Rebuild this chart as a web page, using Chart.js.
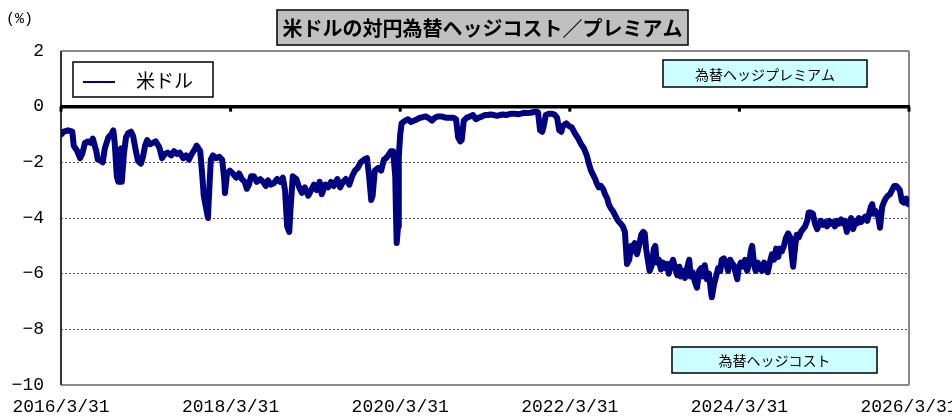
<!DOCTYPE html>
<html><head><meta charset="utf-8">
<script src="https://cdn.jsdelivr.net/npm/chart.js@4/dist/chart.umd.min.js"></script>
<style>html,body{margin:0;padding:0;background:#fff;}#wrap{width:952px;height:418px;}</style>
</head><body><div id="wrap"><canvas id="c" width="952" height="418"></canvas></div>
<script>
const chartTitle = '米ドルの対円為替ヘッジコスト／プレミアム';
const seriesName = '米ドル';
const unitLabel = '(%)';
const premiumLabel = '為替ヘッジプレミアム';
const costLabel = '為替ヘッジコスト';
const xTickMonths = [0, 24, 48, 72, 96, 120];
const xTickLabels = ['2016/3/31', '2018/3/31', '2020/3/31', '2022/3/31', '2024/3/31', '2026/3/31'];
const yTickValues = [2, 0, -2, -4, -6, -8, -10];

// months elapsed since 2016/3/31
const monthsElapsed = [
 0,0.4,1.0,1.6,1.8,2.3,2.7,3.0,3.4,3.8,4.2,4.5,5.0,5.2,5.7,5.9,6.2,6.7,7.1,7.4,
 7.6,7.9,8.1,8.2,8.5,8.6,8.9,9.2,9.5,9.9,10.2,10.6,10.9,11.3,11.6,11.9,12.2,12.6,13.0,13.4,
 13.9,14.3,14.7,15.1,15.6,16.0,16.4,16.8,17.3,17.7,18.1,18.5,19.0,19.2,19.7,
 20.0,20.2,20.5,20.8,20.9,21.2,21.5,21.9,22.4,22.8,23.1,23.2,23.5,23.9,24.3,24.8,25.2,25.6,26.0,26.3,
 26.6,26.9,27.3,27.7,28.2,28.6,29.0,29.3,29.7,30.1,30.6,31.0,31.4,31.7,32.0,32.3,32.5,32.8,33.3,33.7,
 34.1,34.5,35.0,35.4,35.8,36.2,36.6,36.9,37.4,37.8,38.2,38.6,39.1,39.5,39.9,40.3,40.8,41.2,41.6,42.0,
 42.4,42.9,43.3,43.6,43.9,44.1,44.4,44.9,45.3,45.7,46.0,46.3,46.7,47.0,47.3,47.4,47.5,47.7,47.8,48.0,
 48.2,48.7,49.1,49.5,50.0,50.4,50.8,51.2,51.6,52.1,52.5,52.9,53.3,53.8,54.2,54.6,55.0,55.5,55.9,56.2,
 56.5,56.7,57.0,57.4,57.9,58.3,58.7,59.1,59.6,60.0,60.4,60.8,61.3,61.7,62.1,
 62.5,63.0,63.4,63.8,64.2,64.7,65.1,65.5,65.9,66.4,66.8,67.2,67.5,67.8,68.1,68.3,68.6,69.1,69.5,69.9,
 70.2,70.5,70.8,71.0,71.5,71.9,72.3,72.7,73.2,73.6,74.0,74.4,74.7,75.0,75.3,75.6,75.8,76.1,
 76.4,76.7,77.0,77.3,77.5,77.8,78.1,78.4,78.7,79.0,79.2,79.5,79.8,80.0,80.1,80.4,80.7,80.9,81.2,81.5,
 81.8,82.1,82.4,82.6,82.8,83.1,83.3,83.6,83.9,84.1,84.3,84.6,84.9,85.2,85.5,85.8,86.0,86.3,86.6,86.9,
 87.2,87.5,87.7,88.0,88.3,88.6,88.9,89.1,89.4,89.7,90.0,90.3,
 90.6,90.8,91.1,91.4,91.7,92.0,92.1,92.4,92.7,93.0,93.3,93.5,93.8,94.1,94.4,94.7,94.9,95.2,95.5,95.7,
 95.9,96.2,96.5,96.8,97.1,97.4,97.6,97.8,98.1,98.3,98.6,98.9,99.2,99.5,99.8,100.0,100.3,100.6,100.9,101.2,
 101.5,101.7,102.0,102.3,102.6,102.9,103.2,103.4,103.6,103.9,104.1,104.4,
 104.7,105.0,105.3,105.6,105.8,106.1,106.4,106.7,107.0,107.3,107.5,107.8,108.1,108.4,108.7,109.0,109.2,109.5,109.8,110.1,
 110.4,110.7,110.9,111.2,111.5,111.8,112.1,112.4,112.6,112.9,113.2,113.5,113.8,114.1,114.3,114.6,114.8,115.0,115.3,115.6,
 115.9,116.2,116.5,116.7,117.0,117.3,117.6,117.9,118.2,118.4,118.7,119.0,119.3,119.6,119.9,120.0
];

// USD/JPY hedge cost / premium (%)
const usdHedge = [
 -1.0,-0.9,-0.85,-0.9,-1.4,-1.6,-1.85,-1.7,-1.3,-1.25,-1.3,-1.15,-1.6,-1.9,-1.95,-2.0,-1.5,-1.1,-1.0,-0.85,
 -1.3,-2.5,-2.7,-1.6,-1.5,-2.7,-1.7,-1.1,-0.95,-0.9,-1.05,-1.6,-1.95,-2.05,-1.8,-1.4,-1.2,-1.35,-1.3,-1.25,
 -1.45,-1.85,-1.7,-1.65,-1.75,-1.6,-1.7,-1.65,-1.85,-1.75,-1.9,-1.7,-1.5,-1.4,-1.6,
 -2.5,-3.2,-3.6,-4.0,-3.4,-1.9,-1.75,-1.85,-1.8,-1.9,-2.6,-3.1,-2.4,-2.3,-2.4,-2.55,-2.4,-2.6,-2.7,-2.95,
 -2.8,-2.5,-2.5,-2.7,-2.6,-2.7,-2.85,-2.65,-2.8,-2.75,-2.6,-2.7,-2.55,-3.0,-4.3,-4.5,-3.6,-2.5,-2.6,-2.9,
 -3.1,-2.9,-3.2,-3.0,-2.8,-3.0,-2.7,-3.15,-2.8,-2.9,-2.7,-2.85,-2.6,-2.9,-2.7,-2.6,-2.8,-2.5,-2.3,-2.2,
 -2.0,-1.9,-1.85,-2.5,-3.35,-3.2,-2.3,-2.2,-2.3,-1.9,-1.85,-1.75,-1.6,-1.6,-2.5,-3.8,-4.9,-4.3,-1.8,-1.0,
 -0.6,-0.5,-0.45,-0.55,-0.5,-0.45,-0.4,-0.38,-0.35,-0.42,-0.5,-0.4,-0.35,-0.35,-0.38,-0.4,-0.4,-0.4,-0.45,-1.1,
 -1.25,-1.2,-0.5,-0.4,-0.35,-0.3,-0.45,-0.4,-0.35,-0.3,-0.3,-0.28,-0.3,-0.33,-0.3,
 -0.28,-0.3,-0.27,-0.25,-0.25,-0.27,-0.25,-0.22,-0.23,-0.22,-0.2,-0.18,-0.2,-0.85,-0.9,-0.7,-0.3,-0.25,-0.25,-0.3,
 -0.4,-0.85,-0.9,-0.7,-0.6,-0.7,-0.75,-0.95,-1.15,-1.35,-1.5,-1.75,-2.05,-2.3,-2.45,-2.6,-2.75,-2.9,
 -2.85,-2.95,-3.15,-3.3,-3.5,-3.65,-3.75,-3.9,-4.05,-4.15,-4.2,-4.3,-4.5,-5.3,-5.65,-5.5,-5.0,-5.2,-4.9,-5.3,
 -5.0,-4.6,-4.5,-4.55,-5.1,-5.6,-5.9,-5.7,-5.1,-5.0,-5.6,-5.5,-5.85,-5.6,-5.8,-5.65,-6.0,-5.7,-5.5,-5.8,
 -6.05,-5.75,-6.1,-5.9,-6.15,-5.8,-5.5,-6.1,-5.95,-6.3,-6.5,-5.9,
 -5.8,-6.1,-5.7,-6.2,-6.0,-6.7,-6.85,-6.4,-6.1,-5.8,-5.9,-5.5,-5.45,-5.6,-5.9,-5.5,-5.6,-5.7,-6.0,-6.2,
 -5.8,-5.6,-5.75,-5.5,-5.9,-5.6,-5.2,-5.0,-5.7,-5.9,-5.6,-5.8,-5.9,-5.6,-5.75,-5.95,-5.6,-5.3,-5.5,-5.1,
 -5.4,-5.1,-5.2,-5.0,-4.7,-4.55,-4.7,-5.3,-5.75,-5.0,-4.6,-4.7,
 -4.5,-4.4,-4.3,-4.1,-3.8,-3.8,-3.85,-4.2,-4.4,-4.2,-4.1,-4.25,-4.15,-4.3,-4.1,-4.2,-4.15,-4.3,-4.1,-4.2,
 -4.05,-4.2,-4.1,-4.5,-4.2,-4.0,-4.4,-4.1,-4.2,-4.0,-4.15,-4.05,-3.95,-4.1,-3.9,-3.6,-3.5,-3.85,-3.75,-3.9,
 -4.35,-3.6,-3.4,-3.3,-3.2,-3.15,-3.0,-2.85,-2.85,-2.9,-3.0,-3.4,-3.45,-3.3,-3.5,-3.45
];

const lineColor = '#000080';
const tickFont = {family: '"Liberation Mono", "DejaVu Sans Mono", monospace', size: 18};
const jpFont = '"Noto Sans CJK JP", sans-serif';

function strokeLine(ctx, x1, y1, x2, y2) {
  ctx.beginPath(); ctx.moveTo(x1, y1); ctx.lineTo(x2, y2); ctx.stroke();
}
function labelBox(ctx, x, y, w, h, fill, lw, text, font) {
  ctx.fillStyle = fill; ctx.fillRect(x, y, w, h);
  ctx.strokeStyle = '#000'; ctx.lineWidth = lw; ctx.strokeRect(x, y, w, h);
  ctx.fillStyle = '#000'; ctx.font = font;
  ctx.textAlign = 'center'; ctx.textBaseline = 'middle';
  ctx.fillText(text, x + w / 2, y + h / 2 + 1);
}

const decor = {
  id: 'decor',
  beforeDatasetsDraw(chart) {
    const {ctx, chartArea: a, scales: {x, y}} = chart;
    ctx.save();
    ctx.strokeStyle = '#8a8a8a'; ctx.lineWidth = 2;
    strokeLine(ctx, a.left, a.top, a.right, a.top);
    strokeLine(ctx, a.right, a.top, a.right, a.bottom);
    strokeLine(ctx, a.left, a.bottom, a.right, a.bottom);
    ctx.strokeStyle = '#333'; ctx.lineWidth = 2;
    strokeLine(ctx, a.left, a.top, a.left, a.bottom);
    const y0 = y.getPixelForValue(0);
    ctx.strokeStyle = '#000'; ctx.lineWidth = 3.5;
    strokeLine(ctx, a.left - 1, y0, a.right + 1, y0);
    ctx.lineWidth = 3;
    xTickMonths.forEach(m => {
      const px = x.getPixelForValue(m);
      strokeLine(ctx, px, y0, px, y0 + 5);
    });
    ctx.restore();
  },
  afterDraw(chart) {
    const {ctx} = chart;
    ctx.save();
    // unit
    ctx.fillStyle = '#000'; ctx.font = '15px "Liberation Mono", monospace';
    ctx.textAlign = 'left'; ctx.textBaseline = 'middle';
    ctx.fillText(unitLabel, 6, 19);
    // title
    labelBox(ctx, 277, 10, 411, 35, '#c0c0c0', 1.5, chartTitle, 'bold 20px ' + jpFont);
    // legend
    ctx.fillStyle = '#fff'; ctx.fillRect(73, 62, 140, 35);
    ctx.strokeStyle = '#000'; ctx.lineWidth = 1.5; ctx.strokeRect(73, 62, 140, 35);
    ctx.strokeStyle = chart.data.datasets[0].borderColor; ctx.lineWidth = 2;
    strokeLine(ctx, 83, 82, 115, 82);
    ctx.fillStyle = '#000'; ctx.font = '19px ' + jpFont;
    ctx.textAlign = 'left'; ctx.textBaseline = 'middle';
    ctx.fillText(chart.data.datasets[0].label, 136, 81);
    // annotation boxes
    labelBox(ctx, 663, 60, 204, 27, '#ccffff', 1.5, premiumLabel, '14px ' + jpFont);
    labelBox(ctx, 672, 347, 205, 26, '#ccffff', 1.5, costLabel, '14px ' + jpFont);
    ctx.restore();
  }
};

new Chart(document.getElementById('c'), {
  type: 'line',
  data: {
    datasets: [{
      label: seriesName,
      data: monthsElapsed.map((m, i) => ({x: m, y: usdHedge[i]})),
      borderColor: lineColor,
      backgroundColor: lineColor,
      borderWidth: 6,
      pointRadius: 0,
      tension: 0,
      borderJoinStyle: 'round',
      borderCapStyle: 'round',
      fill: false
    }]
  },
  options: {
    responsive: false,
    animation: false,
    devicePixelRatio: 1,
    layout: {padding: {top: 51, right: 43, bottom: 0, left: 0}},
    plugins: {legend: {display: false}, tooltip: {enabled: false}, title: {display: false}},
    scales: {
      x: {
        type: 'linear', min: 0, max: 120,
        afterBuildTicks: s => { s.ticks = xTickMonths.map(v => ({value: v})); },
        afterFit: s => { s.paddingLeft = 0; s.paddingRight = 0; s.height = 33; },
        grid: {display: false, drawTicks: false},
        border: {display: false},
        ticks: {
          autoSkip: false, maxRotation: 0, minRotation: 0, padding: 11,
          color: '#000', font: tickFont,
          callback: v => xTickLabels[xTickMonths.indexOf(v)]
        }
      },
      y: {
        min: -10, max: 2,
        afterBuildTicks: s => { s.ticks = yTickValues.map(v => ({value: v})); },
        afterFit: s => { s.width = 61; s.paddingTop = 0; s.paddingBottom = 0; },
        grid: {
          drawTicks: false, lineWidth: 1,
          color: c => (c.tick && c.tick.value <= -2 && c.tick.value >= -8) ? '#555' : 'rgba(0,0,0,0)'
        },
        border: {display: false, dash: [2, 2]},
        ticks: {
          padding: 17, color: '#000', font: tickFont,
          callback: v => String(v).replace('-', '−')
        }
      }
    }
  },
  plugins: [decor]
});
</script>
</body></html>
